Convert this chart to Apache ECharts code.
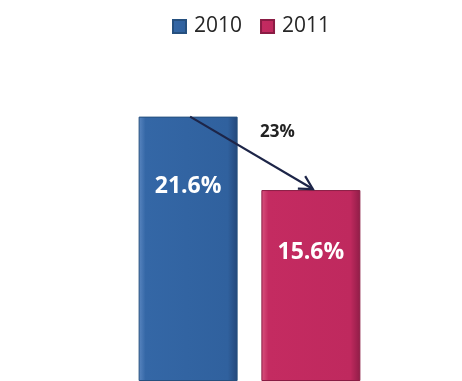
<!DOCTYPE html>
<html>
<head>
<meta charset="utf-8">
<script src="https://cdn.jsdelivr.net/npm/echarts@6/dist/echarts.min.js"></script>
<style>
html,body{margin:0;padding:0;background:#fff;}
#c{width:462px;height:381px;}
</style>
</head>
<body>
<div id="c"></div>
<script>
var categories = [''];
var seriesNames = ['2010', '2011'];
var values2010 = [21.6];
var values2011 = [15.6];
var changeLabel = '23%';

var chart = echarts.init(document.getElementById('c'), null, {renderer: 'canvas'});

function grad(c0, c1, c2, c3) {
  return new echarts.graphic.LinearGradient(0, 0, 1, 0, [
    {offset: 0, color: c0}, {offset: 0.07, color: c1},
    {offset: 0.9, color: c2}, {offset: 1, color: c3}
  ]);
}
var blue = grad('#5a86c0', '#3467a6', '#30619e', '#23477a');
var pink = grad('#d8547f', '#c42b61', '#bf295e', '#8f1d47');

var labelFont = {fontFamily: 'Open Sans', fontWeight: 'bold', fontSize: 23, color: '#ffffff'};

chart.setOption({
  animation: false,
  backgroundColor: '#ffffff',
  legend: {
    left: 167, top: 11,
    itemWidth: 13, itemHeight: 13, itemGap: 18,
    icon: 'rect',
    textStyle: {fontFamily: 'Open Sans', fontSize: 21, color: '#262626', padding: [0, 0, 0, 3]},
    data: seriesNames
  },
  grid: {left: 39, right: 2, top: 75, bottom: -3},
  xAxis: {type: 'category', data: categories, show: false},
  yAxis: {type: 'value', min: 0, max: 25, show: false},
  series: [
    {
      name: seriesNames[0], type: 'bar', data: values2010,
      barWidth: 99, barGap: '24%',
      itemStyle: {color: blue, borderColor: '#26507f', borderWidth: 1},
      label: Object.assign({show: true, position: 'insideTop', distance: 58, formatter: '{c}%'}, labelFont)
    },
    {
      name: seriesNames[1], type: 'bar', data: values2011,
      barWidth: 99,
      itemStyle: {color: pink, borderColor: '#8a1c44', borderWidth: 1},
      label: Object.assign({show: true, position: 'insideTop', distance: 51, formatter: '{c}%'}, labelFont)
    }
  ]
});

// arrow annotation from top of 2010 bar to top of 2011 bar
var l0 = chart.getModel().getSeriesByIndex(0).getData().getItemLayout(0);
var l1 = chart.getModel().getSeriesByIndex(1).getData().getItemLayout(0);
var x0 = l0.x + l0.width * 0.52;
var x1 = l1.x + l1.width * 0.52;
var y0 = Math.min(l0.y, l0.y + l0.height);
var y1 = Math.min(l1.y, l1.y + l1.height) - 1;
var ang = Math.atan2(y1 - y0, x1 - x0);
var ah = 15, aw = 0.5;
var p1 = [x1 - ah * Math.cos(ang - aw), y1 - ah * Math.sin(ang - aw)];
var p2 = [x1 - ah * Math.cos(ang + aw), y1 - ah * Math.sin(ang + aw)];
var arrowColor = '#1d2548';
chart.setOption({
  graphic: [
    {type: 'line', z: 100, shape: {x1: x0, y1: y0, x2: x1, y2: y1}, style: {stroke: arrowColor, lineWidth: 2.2}},
    {type: 'polyline', z: 100, shape: {points: [p1, [x1, y1], p2]}, style: {stroke: arrowColor, lineWidth: 2.2, fill: null}},
    {type: 'text', z: 100, x: (x0 + x1) / 2 + 26, y: (y0 + y1) / 2 - 21,
     style: {text: changeLabel, fontFamily: 'Open Sans', fontWeight: 'bold', fontSize: 17, fill: '#222222', align: 'center', verticalAlign: 'middle'}}
  ]
});
</script>
</body>
</html>
